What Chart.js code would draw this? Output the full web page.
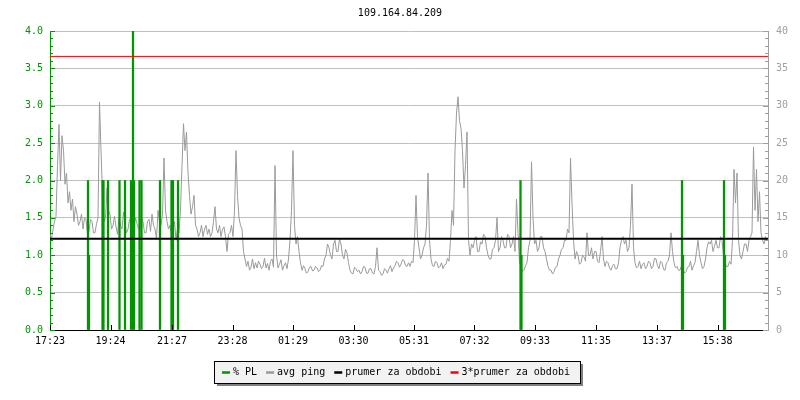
<!DOCTYPE html>
<html>
<head>
<meta charset="utf-8">
<script src="https://cdn.jsdelivr.net/npm/chart.js@4.4.1/dist/chart.umd.min.js"></script>
<style>
html,body{margin:0;padding:0;background:#fff}
#wrap{width:800px;height:400px}
</style>
</head>
<body>
<div id="wrap"><canvas id="c"></canvas></div>
<script>
Chart.defaults.font.family="'DejaVu Sans Mono',monospace";
Chart.defaults.font.size=10;
Chart.defaults.animation=false;

/* x axis = minutes from 17:23 */
const tickMinutes=[0,121,244,365,486,607,728,849,970,1092,1214,1335];
const tickLabels=['17:23','19:24','21:27','23:28','01:29','03:30','05:31','07:32','09:33','11:35','13:37','15:38'];
const xMax=1436;

/* avg ping (ms), one sample every 3 min, one row = 1 hour */
const pingStep=3;
const pingMs=[
  12.8,12.2,13.4,14.5,15.2,22,27.5,20,26,24,19.5,21,17,18.5,16,17.5,14.5,16.5,15.5,14,
  14.5,15.5,13.5,15,14.8,12.8,13.2,14.8,14.5,13,13,14.2,15,30.5,24,18,14.5,15,19,16,
  15.5,13.5,14,15.2,13.8,12.8,15,14,13.5,15.8,14.2,13,13.5,14.8,15,13.2,13.8,15,14.2,13.5,
  13.5,15,14.5,13,13,14.5,14.8,13.2,15.5,14,13.5,12.2,16,14.5,14,15.5,23,16,14.5,13.5,
  14,12.8,13.5,14.5,12,13.5,13,16,22,27.6,24,26.5,21,18,15.5,16.5,18,14,13.5,12.5,
  13,14,12.5,13.5,14,12.8,13.5,12.5,13,14.5,16.5,13.5,13,14,12.5,13.5,13.8,12.5,10.5,12.8,
  13,14,12.5,16,24,18,15,14,13.5,10.5,9.5,8.5,9.2,8,8.4,9.5,8.2,9,8.3,9.2,
  8.8,8.2,8.5,9.6,8.3,8.9,8,9.2,9.5,8.4,22,10,8.3,8.8,9.4,8,8.6,9,8.2,9.5,
  12,16,24,14,11.5,12.5,10.5,9,8,8.6,8.2,7.6,7.8,8.4,8.5,7.9,8,8.5,8.3,7.8,
  8,8.6,8.5,9.5,10,11.5,11,10,9.5,11.5,12,10.5,10.5,12.2,11.5,10,9.5,10.8,10.3,9,
  8,7.6,7.5,8.4,8.2,7.8,8,7.5,7.8,8.5,8.4,7.6,7.6,8.2,8.2,7.6,7.5,8.5,11,8,
  7.8,7.3,7.5,8.2,8,7.6,8.2,8.6,7.8,8.3,8.6,9.2,9,8.4,8.8,9.4,9.3,8.6,8.5,9,
  8.5,9.2,9,12,18,12.5,11,9.5,10,11,11.5,14,21,12,9.5,8.6,8.5,9.2,9,8.3,
  8.5,9,8.2,8.7,8.8,9.6,9.2,12,16,14,24,29,31.2,28,27,24,19,22,26.5,12,
  10,11.5,11,12,12.5,10.5,10.5,11.8,11.5,12.8,12.5,11,10,9.5,9.5,10.8,11,12,15,10.5,
  11,12.5,12,11,11,12.8,12.5,11,11.5,12.5,10.5,17.5,13,9,8.5,7.8,8,8.6,9,11,
  12,22.5,15,11.5,12,10.5,11,12.5,12.5,11,10.5,9.5,8.5,8,8,7.5,7.8,8.4,8.5,9.5,
  10,10.8,11,12,12,13.5,13,23,17,12,9.5,10.5,10,8.8,9,10,9.8,9.2,13,10,
  10,11,9.5,10.5,10.5,9.2,9,10.5,12.5,9.5,8.5,9.2,9,8.3,8,8.6,8.8,8.2,8.2,9,
  11,12,12.5,11.5,12,10.5,11,14,19.5,11,9,8.3,8.5,9.2,8.2,8.8,9,8.2,8.5,9.2,
  9,8.2,8.5,9.6,9.5,8.6,8.2,9.2,9,8.1,8,9,9.2,10,13,10.5,9,8.3,8.5,8,
  8,8.6,8.2,7.6,7.8,8.4,8.5,9.2,8,8.6,9,10.5,12,10,9,8.2,8.5,9.5,11,11.8,
  11.5,12,10.5,11.2,12,11,11,12.5,12,10,9,8.5,8.5,9.2,8.8,12,21.5,17,21,12,
  10,9.5,10.5,11.5,11.5,10.5,12,12.5,13,24.5,16,21.5,14.5,18.5,13,12,11.5,12.5,12
];

/* packet loss */
const plMinutes=[76,78,105,107,116,139,150,162,166,168,179,183,220,243,246,256,941,943,1264,1266,1348,1350];
const plValues =[2.0,1.0,2.0,2.0,2.0,2.0,2.0,2.0,4.0,2.0,2.0,2.0,2.0,2.0,2.0,2.0,2.0,1.0,2.0,1.0,2.0,1.0];

const meanMs=12.2;

const GREEN='#009600', GREY='#9a9a9a', AXGREY='#a0a0a0';

const axisTicks={
  id:'axisTicks',
  afterDatasetsDraw(chart){
    const {ctx,chartArea:a,scales:{x,y}}=chart;
    ctx.save();
    ctx.lineWidth=1;
    for(let i=0;i<=40;i++){
      const py=Math.round(y.getPixelForValue(i/10))+0.5;
      const len=i%5?3:5;
      ctx.strokeStyle=GREEN;
      ctx.beginPath();ctx.moveTo(a.left,py);ctx.lineTo(a.left+len,py);ctx.stroke();
      ctx.strokeStyle=AXGREY;
      ctx.beginPath();ctx.moveTo(a.right,py);ctx.lineTo(a.right-len,py);ctx.stroke();
    }
    ctx.strokeStyle='#000';
    tickMinutes.forEach(m=>{
      const px=Math.round(x.getPixelForValue(m))+0.5;
      ctx.beginPath();ctx.moveTo(px,a.bottom);ctx.lineTo(px,a.bottom-5);ctx.stroke();
    });
    ctx.restore();
  }
};

const boxLegend={
  id:'boxLegend',
  afterDraw(chart){
    const ctx=chart.ctx;
    const L=214,T=361,W=366,H=22;
    ctx.save();
    ctx.fillStyle='#808080';ctx.fillRect(L+3,T+3,W,H);
    ctx.fillStyle='#f2f2f2';ctx.fillRect(L,T,W,H);
    ctx.strokeStyle='#000';ctx.lineWidth=1;ctx.strokeRect(L+0.5,T+0.5,W,H);
    ctx.font="10px 'DejaVu Sans Mono',monospace";
    ctx.textBaseline='middle';
    let px=L+8;const cy=T+H/2+0.5;
    chart.data.datasets.forEach(ds=>{
      ctx.strokeStyle=ds.legendColor;ctx.lineWidth=2.5;
      ctx.beginPath();ctx.moveTo(px,cy);ctx.lineTo(px+8,cy);ctx.stroke();
      ctx.fillStyle='#000';
      ctx.fillText(ds.label,px+11,cy);
      px+=11+ctx.measureText(ds.label).width+9;
    });
    ctx.restore();
  }
};

new Chart(document.getElementById('c'),{
  data:{datasets:[
    {type:'bar',label:'% PL',legendColor:GREEN,yAxisID:'y',order:2,
      data:plMinutes.map((m,i)=>({x:m,y:plValues[i]})),
      backgroundColor:GREEN,barThickness:1.6,grouped:false},
    {type:'line',label:'avg ping',legendColor:GREY,yAxisID:'y2',order:3,
      data:pingMs.map((v,i)=>({x:i*pingStep,y:v})),
      borderColor:GREY,borderWidth:1,pointRadius:0,tension:0},
    {type:'line',label:'prumer za obdobi',legendColor:'#000',yAxisID:'y2',order:1,
      data:[{x:0,y:meanMs},{x:xMax,y:meanMs}],
      borderColor:'#000',borderWidth:2,pointRadius:0},
    {type:'line',label:'3*prumer za obdobi',legendColor:'#ff0000',yAxisID:'y2',order:0,
      data:[{x:0,y:3*meanMs},{x:xMax,y:3*meanMs}],
      borderColor:'#ff0000',borderWidth:1,pointRadius:0}
  ]},
  options:{
    responsive:true,maintainAspectRatio:false,
    layout:{padding:{top:0,left:0,right:0,bottom:52}},
    plugins:{
      legend:{display:false},
      tooltip:{enabled:false},
      title:{display:true,text:'109.164.84.209',color:'#000',
        font:{size:10,weight:'normal'},padding:{top:7,bottom:12}}
    },
    scales:{
      x:{type:'linear',min:0,max:xMax,offset:false,
        afterBuildTicks:s=>{s.ticks=tickMinutes.map(v=>({value:v}));},
        afterFit:s=>{s.height=18;},
        grid:{drawOnChartArea:false,drawTicks:false,offset:false},
        border:{color:'#000',width:1},
        ticks:{color:'#000',padding:5,maxRotation:0,autoSkip:false,
          callback:(v,i)=>tickLabels[i]}},
      y:{position:'left',min:0,max:4,
        afterFit:s=>{s.width=50;},
        grid:{color:'#c0c0c0',drawTicks:false},
        border:{color:GREEN,width:1},
        ticks:{stepSize:0.5,color:GREEN,padding:7,callback:v=>v.toFixed(1)}},
      y2:{position:'right',min:0,max:40,
        afterFit:s=>{s.width=32;},
        grid:{drawOnChartArea:false,drawTicks:false},
        border:{color:AXGREY,width:1},
        ticks:{stepSize:5,color:AXGREY,padding:8}}
    }
  },
  plugins:[axisTicks,boxLegend]
});
</script>
</body>
</html>
